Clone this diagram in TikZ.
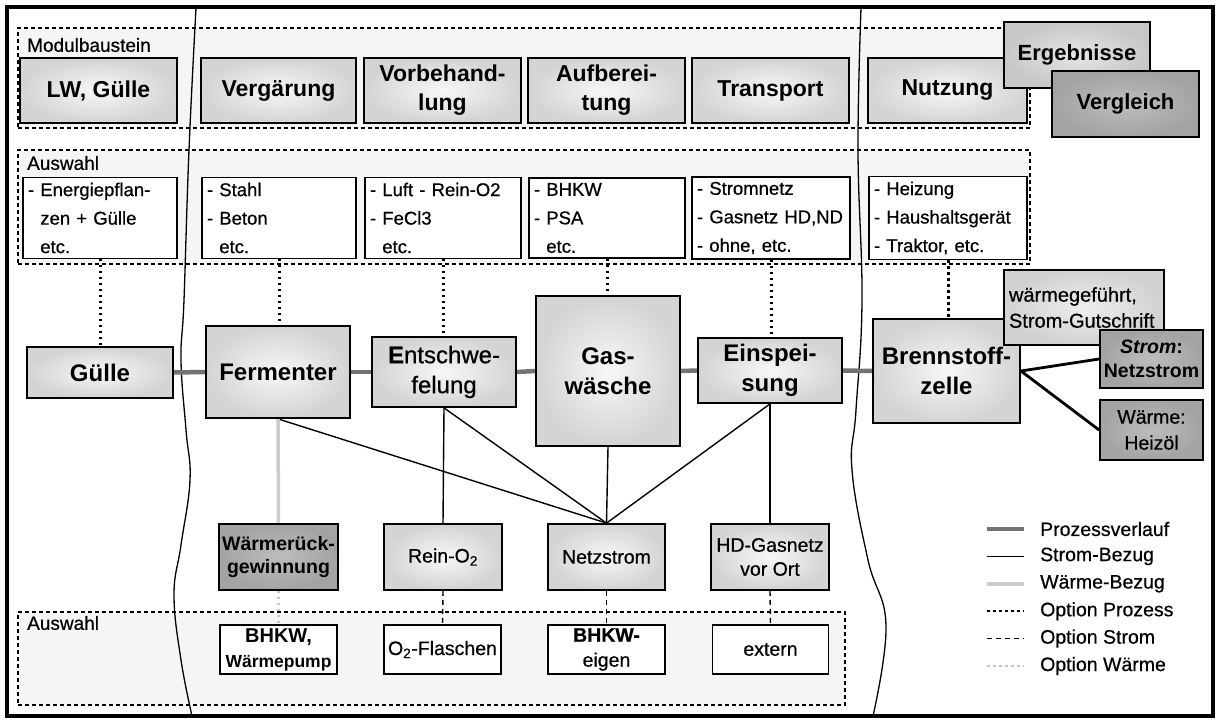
\documentclass[tikz,border=0pt]{standalone}
\usepackage{fontspec}
\setmainfont{Liberation Sans}
\newfontfamily\semib[FakeBold=0.6]{Liberation Sans}
\pgfdeclarelayer{back}
\pgfdeclarelayer{mid}
\pgfsetlayers{back,mid,main}
\begin{document}
\begin{tikzpicture}[x=1pt,y=-1pt,
  region/.style={draw, line width=1.1pt, dash pattern=on 4pt off 3pt, fill=black!4, inner sep=0pt},
  lab/.style={anchor=west, inner sep=0pt, font=\semib\fontsize{19}{23}\selectfont},
  boxbase/.style={draw, line width=1.8pt, inner sep=0pt, align=center},
  lightfill/.style={inner color=black!3, outer color=black!17},
  darkfill/.style={inner color=black!26, outer color=black!36},
  modbox/.style={boxbase, lightfill, font=\fontsize{23}{29}\selectfont\bfseries, minimum height=65pt},
  selbox/.style={draw, line width=1.4pt, fill=white, inner sep=5pt, align=left, minimum height=78pt, font=\semib\fontsize{18.5}{28.5}\selectfont},
  procbox/.style={boxbase, lightfill, font=\fontsize{24}{30}\selectfont\bfseries},
  lowbox/.style={boxbase, lightfill, minimum height=66pt, font=\semib\fontsize{19.5}{24}\selectfont},
  cbox/.style={draw, line width=1.4pt, fill=white, inner sep=0pt, align=center, minimum height=49pt, font=\semib\fontsize{19.5}{25}\selectfont},
  legtext/.style={anchor=west, inner sep=0pt, font=\semib\fontsize{19.5}{23}\selectfont},
  prozline/.style={draw=black!55, line width=4.5pt},
  stromline/.style={draw=black, line width=1.4pt},
  waermeline/.style={draw=black!20, line width=3.5pt},
  optproz/.style={draw=black, line width=3pt, dash pattern=on 2.5pt off 3.5pt},
  optstrom/.style={draw=black, line width=1.4pt, dash pattern=on 5pt off 4pt},
  optwaerme/.style={draw=black!22, line width=3pt, dash pattern=on 2.5pt off 3.5pt},
  curve/.style={draw=black, line width=1.3pt}
]
\useasboundingbox (0,0) rectangle (1221,720);

% ---------- regions ----------
\begin{pgfonlayer}{back}
\fill[white] (0,0) rectangle (1221,720);
\node[region, minimum width=1012pt, minimum height=100pt] (modreg) at (524,78) {};
\node[region, minimum width=1012pt, minimum height=114pt] (ausreg) at (524,207) {};
\node[region, minimum width=827pt, minimum height=93pt] (lowreg) at (431.5,658.5) {};
\end{pgfonlayer}

\node[lab] (modlab) at (27,45) {Modulbaustein};
\node[lab] (auslab) at (27,163) {Auswahl};
\node[lab] (lowlab) at (27,623) {Auswahl};

% ---------- module row ----------
\node[modbox, minimum width=157pt] (lw) at (98.5,90.5) {LW, Gülle};
\node[modbox, minimum width=155pt] (verg) at (278.5,90.5) {Vergärung};
\node[modbox, minimum width=157pt] (vorb) at (442.5,90.5) {Vorbehand-\\lung};
\node[modbox, minimum width=157pt] (aufb) at (606.5,90.5) {Aufberei-\\tung};
\node[modbox, minimum width=157pt] (trans) at (770.5,90.5) {Transport};
\node[modbox, minimum width=159pt] (nutz) at (947.5,90.5) {Nutzung};
\node[modbox, inner color=black!10, outer color=black!22, minimum width=146pt, minimum height=66pt, font=\fontsize{22}{27}\selectfont\bfseries] (erg) at (1077,55) {Ergebnisse};
\node[modbox, darkfill, minimum width=147pt, minimum height=66pt, font=\fontsize{22}{27}\selectfont\bfseries] (vergl) at (1125.5,104) {Vergleich};

% ---------- selection row ----------
\node[selbox, text width=144pt] (a1) at (100,218) {- Energiepflan-\\\phantom{- }zen + Gülle\\\phantom{- }etc.};
\node[selbox, text width=144pt] (a2) at (279,218) {- Stahl\\- Beton\\\phantom{- }etc.};
\node[selbox, text width=146pt] (a3) at (443,218) {- Luft - Rein-O2\\- FeCl3\\\phantom{- }etc.};
\node[selbox, text width=146pt] (a4) at (607,218) {- BHKW\\- PSA\\\phantom{- }etc.};
\node[selbox, text width=148pt] (a5) at (771,218) {- Stromnetz\\- Gasnetz HD,ND\\- ohne, etc.};
\node[selbox, text width=148pt] (a6) at (948,218) {- Heizung\\- Haushaltsgerät\\- Traktor, etc.};

% ---------- process row ----------
\node[procbox, minimum width=146pt, minimum height=51pt] (guelle) at (100,372.5) {Gülle};
\node[procbox, minimum width=144pt, minimum height=92pt] (ferm) at (278,372) {Fermenter};
\node[procbox, minimum width=144pt, minimum height=70pt, font=\semib\fontsize{24}{30}\selectfont] (ent) at (444,372) {\textbf{E}ntschwe-\\felung};
\node[procbox, minimum width=144pt, minimum height=150pt] (gas) at (608,371) {Gas-\\wäsche};
\node[procbox, minimum width=144pt, minimum height=65pt] (einsp) at (770,370.5) {Einspei-\\sung};
\node[procbox, minimum width=147pt, minimum height=104pt] (brenn) at (946.5,371) {Brennstoff-\\zelle};
\node[boxbase, inner color=black!7, outer color=black!18, minimum width=160pt, minimum height=75pt, align=left, text width=150pt, font=\semib\fontsize{20}{26}\selectfont] (wg) at (1084,307.5) {wärmegeführt,\\Strom-Gutschrift};
\node[boxbase, darkfill, minimum width=103pt, minimum height=58pt, font=\fontsize{19.5}{24}\selectfont\bfseries] (netzb) at (1151.5,359) {\textit{Strom}:\\Netzstrom};
\node[boxbase, darkfill, minimum width=103pt, minimum height=60pt, font=\semib\fontsize{19.5}{26}\selectfont] (heiz) at (1151.5,430) {Wärme:\\Heizöl};

% ---------- lower row ----------
\node[lowbox, darkfill, minimum width=119pt, font=\fontsize{19.5}{23}\selectfont\bfseries] (wrg) at (278.5,557) {Wärmerück-\\gewinnung};
\node[lowbox, minimum width=118pt] (reino) at (443,557) {Rein-O\textsubscript{2}};
\node[lowbox, minimum width=117pt] (netz) at (606.5,557) {Netzstrom};
\node[lowbox, minimum width=118pt] (hd) at (770,557) {HD-Gasnetz\\vor Ort};

\node[cbox, minimum width=117pt, font=\fontsize{20}{25}\selectfont\bfseries] (b1) at (278.5,649.5) {BHKW,\\{\fontsize{17.5}{25}\selectfont Wärmepump}};
\node[cbox, minimum width=117pt] (b2) at (442.5,649.5) {O\textsubscript{2}-Flaschen};
\node[cbox, minimum width=117pt] (b3) at (606.5,649.5) {\textbf{BHKW-}\\eigen};
\node[cbox, minimum width=116pt] (b4) at (770.5,649.5) {extern};

% ---------- legend ----------
\foreach \i/\t in {1/Prozessverlauf, 2/Strom-Bezug, 3/Wärme-Bezug, 4/Option Prozess, 5/Option Strom, 6/Option Wärme}{
  \coordinate (la\i) at (987,{529+27.4*(\i-1)});
  \coordinate (lb\i) at (1024,{529+27.4*(\i-1)});
  \node[legtext] (lt\i) at (1040,{529+27.4*(\i-1)}) {\t};
}

\begin{pgfonlayer}{mid}
% wavy separators
\draw[curve] plot[smooth, tension=0.7] coordinates {(196,8) (189,150) (184,300) (181,360) (186,430) (190,480) (181,545) (174,595) (181,660) (192,716)};
\draw[curve] plot[smooth, tension=0.7] coordinates {(861,8) (858,150) (862,300) (856,410) (852,470) (868,560) (886,625) (873,716)};

% option process (dotted)
\draw[optproz] (a1.south) -- (a1.south |- guelle.north);
\draw[optproz] (a2.south) -- (a2.south |- ferm.north);
\draw[optproz] (a3.south) -- (a3.south |- ent.north);
\draw[optproz] (a4.south) -- (a4.south |- gas.north);
\draw[optproz] (a5.south) -- (a5.south |- einsp.north);
\draw[optproz] (a6.south) -- (a6.south |- brenn.north);

% process flow
\draw[prozline] (guelle.east) -- (ferm.west);
\draw[prozline] (ferm.east) -- (ent.west);
\draw[prozline] (ent.east) -- (gas.west);
\draw[prozline] (gas.east) -- (einsp.west);
\draw[prozline] (einsp.east) -- (brenn.west);

% fuel cell credits
\draw[draw=black, line width=2.8pt] (brenn.east) -- (netzb.west);
\draw[draw=black, line width=2.8pt] (brenn.east) -- (heiz.west);

% electricity
\draw[stromline] (ferm.south) -- (netz.north);
\draw[stromline] (ent.south) -- (reino.north);
\draw[stromline] (ent.south) -- (netz.north);
\draw[stromline] (gas.south) -- (netz.north);
\draw[stromline] (einsp.south) -- (netz.north);
\draw[stromline] (einsp.south) -- (hd.north);

% heat
\draw[waermeline] (ferm.south) -- (wrg.north);

% options
\draw[optwaerme] (wrg.south) -- (b1.north);
\draw[optstrom] (reino.south) -- (b2.north);
\draw[optstrom] (netz.south) -- (b3.north);
\draw[optstrom] (hd.south) -- (b4.north);

% legend samples
\draw[prozline] (la1) -- (lb1);
\draw[stromline] (la2) -- (lb2);
\draw[waermeline] (la3) -- (lb3);
\draw[optproz, line width=2.5pt] (la4) -- (lb4);
\draw[optstrom] (la5) -- (lb5);
\draw[optwaerme, line width=2.5pt] (la6) -- (lb6);
\end{pgfonlayer}

% outer frame
\draw[line width=4pt] (7,7) rectangle (1213,716);
\end{tikzpicture}
\end{document}
